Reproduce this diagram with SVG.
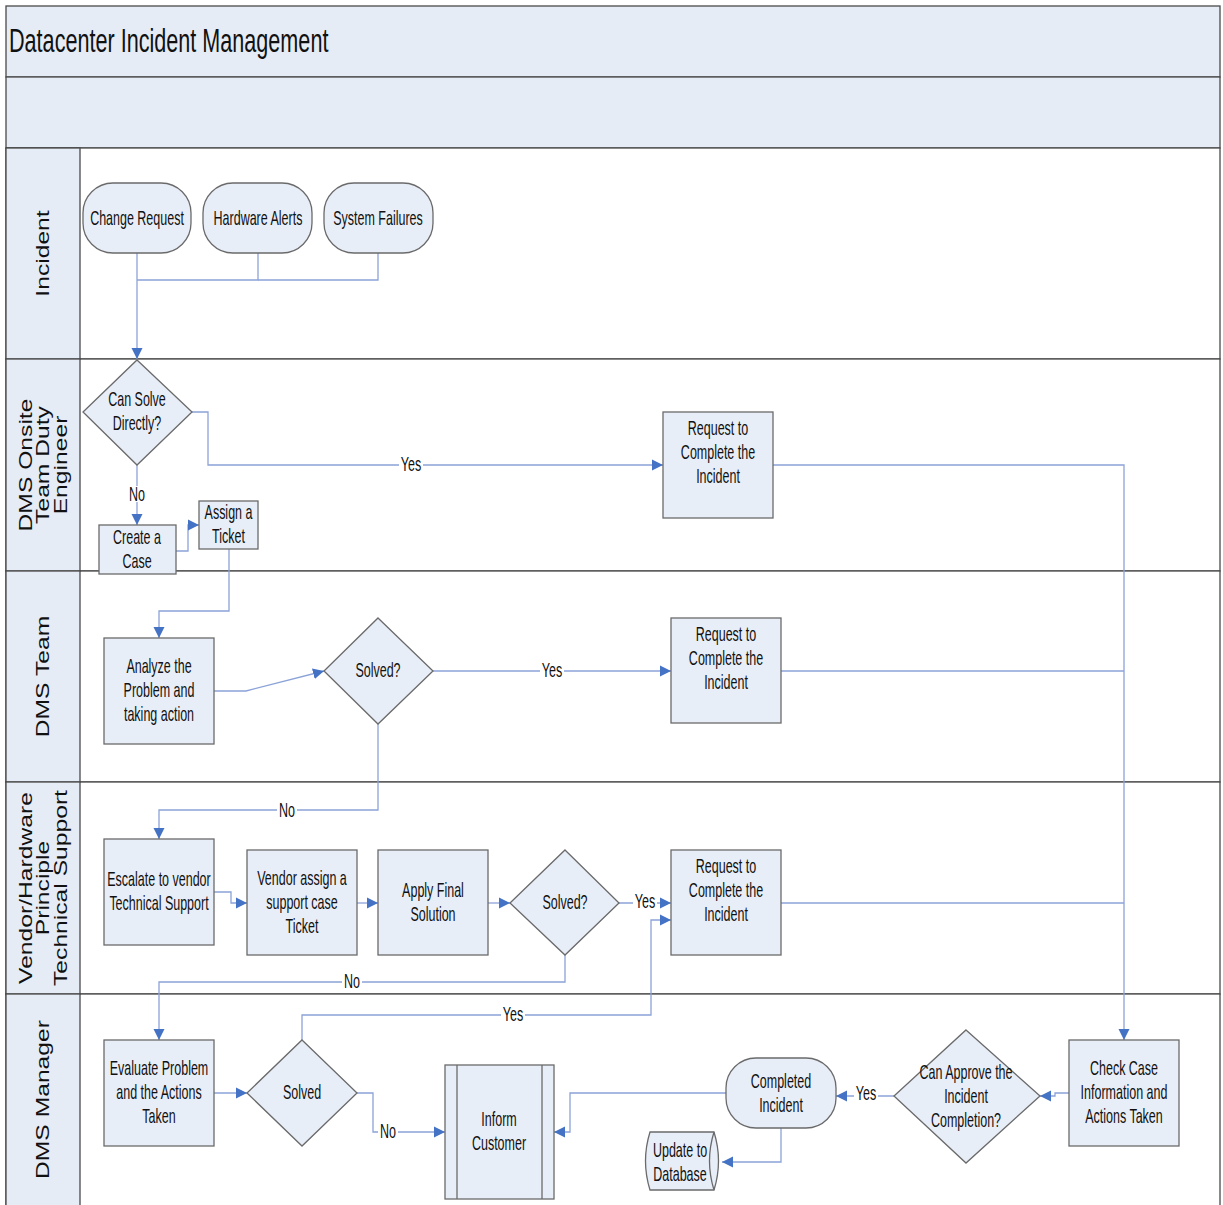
<svg xmlns="http://www.w3.org/2000/svg" width="1223" height="1205" viewBox="0 0 1223 1205">
  <style>
    .band { fill: #e6ecf6; stroke: #4a4a4a; stroke-width: 1.3; }
    .lane { fill: #ffffff; stroke: #4a4a4a; stroke-width: 1.3; }
    .node { fill: #e8eef8; stroke: #6a6a6a; stroke-width: 1.3; }
    .conn { fill: none; stroke: #8ca3d8; stroke-width: 1.3; }
    .t { font-family: "Liberation Sans", Arial, sans-serif; font-size: 20px; fill: #111; text-anchor: middle; }
    .title { font-family: "Liberation Sans", Arial, sans-serif; font-size: 33px; fill: #111; }
    .lt { font-family: "Liberation Sans", Arial, sans-serif; font-size: 18px; fill: #111; text-anchor: middle; }
    .lbg { fill: #ffffff; }
  </style>
  <defs>
    <marker id="arr" markerUnits="userSpaceOnUse" markerWidth="12" markerHeight="12" viewBox="0 0 12 12" refX="11" refY="6" orient="auto">
      <path d="M0,0.5 L11,6 L0,11.5 Z" fill="#4472c4"/>
    </marker>
  </defs>

  <!-- pool frame and header bands -->
  <g id="pool">
    <rect class="band" x="6" y="6" width="1214" height="71"/>
    <rect class="band" x="6" y="77" width="1214" height="71"/>
    <text class="title" transform="translate(9 0) scale(0.655 1)" x="0" y="52">Datacenter Incident Management</text>
  </g>

  <!-- swimlanes -->
  <g id="lanes">
    <rect class="lane" x="6" y="148" width="1214" height="211"/>
    <rect class="lane" x="6" y="359" width="1214" height="212"/>
    <rect class="lane" x="6" y="571" width="1214" height="211"/>
    <rect class="lane" x="6" y="782" width="1214" height="212"/>
    <rect class="lane" x="6" y="994" width="1214" height="215"/>
    <rect class="band" x="6" y="148" width="74" height="211"/>
    <rect class="band" x="6" y="359" width="74" height="212"/>
    <rect class="band" x="6" y="571" width="74" height="211"/>
    <rect class="band" x="6" y="782" width="74" height="212"/>
    <rect class="band" x="6" y="994" width="74" height="215"/>
    <text class="lt" transform="translate(49 253.5) rotate(-90) scale(1.37 1)">Incident</text>
    <text class="lt" transform="translate(31.5 465) rotate(-90) scale(1.37 1)">DMS Onsite</text>
    <text class="lt" transform="translate(49 465) rotate(-90) scale(1.37 1)">Team Duty</text>
    <text class="lt" transform="translate(66.5 465) rotate(-90) scale(1.37 1)">Engineer</text>
    <text class="lt" transform="translate(49 676.5) rotate(-90) scale(1.37 1)">DMS Team</text>
    <text class="lt" transform="translate(31.5 888) rotate(-90) scale(1.37 1)">Vendor/Hardware</text>
    <text class="lt" transform="translate(49 888) rotate(-90) scale(1.37 1)">Principle</text>
    <text class="lt" transform="translate(66.5 888) rotate(-90) scale(1.37 1)">Technical Support</text>
    <text class="lt" transform="translate(49 1099.5) rotate(-90) scale(1.37 1)">DMS Manager</text>
  </g>

  <!-- connectors -->
  <g id="connectors">
    <path class="conn" d="M137,253 V359" marker-end="url(#arr)"/>
    <path class="conn" d="M258,253 V280 H137"/>
    <path class="conn" d="M378,253 V280 H258"/>
    <path class="conn" d="M192,412 H208 V465 H663" marker-end="url(#arr)"/>
    <path class="conn" d="M773,465 H1124 V1040" marker-end="url(#arr)"/>
    <path class="conn" d="M137,465 V525" marker-end="url(#arr)"/>
    <path class="conn" d="M176,551 H188 V525 H199" marker-end="url(#arr)"/>
    <path class="conn" d="M229,549 V611 H159 V638" marker-end="url(#arr)"/>
    <path class="conn" d="M214,691 H246 L324,671" marker-end="url(#arr)"/>
    <path class="conn" d="M433,671 H671" marker-end="url(#arr)"/>
    <path class="conn" d="M781,671 H1124"/>
    <path class="conn" d="M378,724 V810 H159 V839" marker-end="url(#arr)"/>
    <path class="conn" d="M214,892 H231 V903 H247" marker-end="url(#arr)"/>
    <path class="conn" d="M357,903 H378" marker-end="url(#arr)"/>
    <path class="conn" d="M488,903 H510" marker-end="url(#arr)"/>
    <path class="conn" d="M619,903 H671" marker-end="url(#arr)"/>
    <path class="conn" d="M781,903 H1124"/>
    <path class="conn" d="M565,955 V982 H159 V1040" marker-end="url(#arr)"/>
    <path class="conn" d="M214,1093 H247" marker-end="url(#arr)"/>
    <path class="conn" d="M302,1040 V1015 H651 V920 H671" marker-end="url(#arr)"/>
    <path class="conn" d="M357,1093 H373 V1132 H445" marker-end="url(#arr)"/>
    <path class="conn" d="M1069,1093 H1055 V1096 H1040" marker-end="url(#arr)"/>
    <path class="conn" d="M894,1096 H836" marker-end="url(#arr)"/>
    <path class="conn" d="M726,1093 H570 V1132 H554" marker-end="url(#arr)"/>
    <path class="conn" d="M781,1128 V1162 H722" marker-end="url(#arr)"/>

    <!-- connector labels -->
    <rect class="lbg" x="399" y="457" width="24" height="16"/>
    <text class="t" transform="translate(411 0) scale(0.625 1)" x="0" y="471">Yes</text>
    <rect class="lbg" x="127" y="486" width="20" height="16"/>
    <text class="t" transform="translate(137 0) scale(0.625 1)" x="0" y="501">No</text>
    <rect class="lbg" x="540" y="663" width="24" height="16"/>
    <text class="t" transform="translate(552 0) scale(0.625 1)" x="0" y="677">Yes</text>
    <rect class="lbg" x="277" y="802" width="20" height="16"/>
    <text class="t" transform="translate(287 0) scale(0.625 1)" x="0" y="817">No</text>
    <rect class="lbg" x="633" y="894" width="24" height="16"/>
    <text class="t" transform="translate(645 0) scale(0.625 1)" x="0" y="908">Yes</text>
    <rect class="lbg" x="342" y="973" width="20" height="16"/>
    <text class="t" transform="translate(352 0) scale(0.625 1)" x="0" y="988">No</text>
    <rect class="lbg" x="501" y="1007" width="24" height="16"/>
    <text class="t" transform="translate(513 0) scale(0.625 1)" x="0" y="1021">Yes</text>
    <rect class="lbg" x="378" y="1123" width="20" height="16"/>
    <text class="t" transform="translate(388 0) scale(0.625 1)" x="0" y="1138">No</text>
    <rect class="lbg" x="854" y="1086" width="24" height="16"/>
    <text class="t" transform="translate(866 0) scale(0.625 1)" x="0" y="1100">Yes</text>
  </g>

  <!-- Incident lane -->
  <g id="change-request">
    <rect class="node" x="83" y="183" width="108" height="70" rx="30" ry="30"/>
    <text class="t" transform="translate(137 0) scale(0.625 1)" x="0" y="225">Change Request</text>
  </g>
  <g id="hardware-alerts">
    <rect class="node" x="203" y="183" width="109" height="70" rx="30" ry="30"/>
    <text class="t" transform="translate(258 0) scale(0.625 1)" x="0" y="225">Hardware Alerts</text>
  </g>
  <g id="system-failures">
    <rect class="node" x="324" y="183" width="109" height="70" rx="30" ry="30"/>
    <text class="t" transform="translate(378 0) scale(0.625 1)" x="0" y="225">System Failures</text>
  </g>

  <!-- DMS Onsite Team Duty Engineer lane -->
  <g id="can-solve-directly">
    <polygon class="node" points="137,360 192,412 137,465 83,412"/>
    <text class="t" transform="translate(137 0) scale(0.625 1)"><tspan x="0" y="406">Can Solve</tspan><tspan x="0" y="430">Directly?</tspan></text>
  </g>
  <g id="request-complete-1">
    <rect class="node" x="663" y="412" width="110" height="106"/>
    <text class="t" transform="translate(718 0) scale(0.625 1)"><tspan x="0" y="435">Request to</tspan><tspan x="0" y="459">Complete the</tspan><tspan x="0" y="483">Incident</tspan></text>
  </g>
  <g id="create-case">
    <rect class="node" x="99" y="525" width="77" height="49"/>
    <text class="t" transform="translate(137 0) scale(0.625 1)"><tspan x="0" y="544">Create a</tspan><tspan x="0" y="568">Case</tspan></text>
  </g>
  <g id="assign-ticket">
    <rect class="node" x="199" y="501" width="59" height="48"/>
    <text class="t" transform="translate(228.5 0) scale(0.625 1)"><tspan x="0" y="519">Assign a</tspan><tspan x="0" y="543">Ticket</tspan></text>
  </g>

  <!-- DMS Team lane -->
  <g id="analyze-problem">
    <rect class="node" x="104" y="638" width="110" height="106"/>
    <text class="t" transform="translate(159 0) scale(0.625 1)"><tspan x="0" y="673">Analyze the</tspan><tspan x="0" y="697">Problem and</tspan><tspan x="0" y="721">taking action</tspan></text>
  </g>
  <g id="solved-team">
    <polygon class="node" points="378,618 433,671 378,724 324,671"/>
    <text class="t" transform="translate(378 0) scale(0.625 1)" x="0" y="677">Solved?</text>
  </g>
  <g id="request-complete-2">
    <rect class="node" x="671" y="618" width="110" height="105"/>
    <text class="t" transform="translate(726 0) scale(0.625 1)"><tspan x="0" y="641">Request to</tspan><tspan x="0" y="665">Complete the</tspan><tspan x="0" y="689">Incident</tspan></text>
  </g>

  <!-- Vendor/Hardware Principle Technical Support lane -->
  <g id="escalate-vendor">
    <rect class="node" x="104" y="839" width="110" height="106"/>
    <text class="t" transform="translate(159 0) scale(0.625 1)"><tspan x="0" y="886">Escalate to vendor</tspan><tspan x="0" y="910">Technical Support</tspan></text>
  </g>
  <g id="vendor-assign">
    <rect class="node" x="247" y="850" width="110" height="105"/>
    <text class="t" transform="translate(302 0) scale(0.625 1)"><tspan x="0" y="885">Vendor assign a</tspan><tspan x="0" y="909">support case</tspan><tspan x="0" y="933">Ticket</tspan></text>
  </g>
  <g id="apply-final-solution">
    <rect class="node" x="378" y="850" width="110" height="105"/>
    <text class="t" transform="translate(433 0) scale(0.625 1)"><tspan x="0" y="897">Apply Final</tspan><tspan x="0" y="921">Solution</tspan></text>
  </g>
  <g id="solved-vendor">
    <polygon class="node" points="565,850 619,903 565,955 510,903"/>
    <text class="t" transform="translate(565 0) scale(0.625 1)" x="0" y="909">Solved?</text>
  </g>
  <g id="request-complete-3">
    <rect class="node" x="671" y="850" width="110" height="105"/>
    <text class="t" transform="translate(726 0) scale(0.625 1)"><tspan x="0" y="873">Request to</tspan><tspan x="0" y="897">Complete the</tspan><tspan x="0" y="921">Incident</tspan></text>
  </g>

  <!-- DMS Manager lane -->
  <g id="evaluate-problem">
    <rect class="node" x="104" y="1040" width="110" height="106"/>
    <text class="t" transform="translate(159 0) scale(0.625 1)"><tspan x="0" y="1075">Evaluate Problem</tspan><tspan x="0" y="1099">and the Actions</tspan><tspan x="0" y="1123">Taken</tspan></text>
  </g>
  <g id="solved-manager">
    <polygon class="node" points="302,1040 357,1093 302,1146 247,1093"/>
    <text class="t" transform="translate(302 0) scale(0.625 1)" x="0" y="1099">Solved</text>
  </g>
  <g id="inform-customer">
    <rect class="node" x="445" y="1065" width="109" height="134"/>
    <line class="node" x1="457" y1="1065" x2="457" y2="1199"/>
    <line class="node" x1="542" y1="1065" x2="542" y2="1199"/>
    <text class="t" transform="translate(499 0) scale(0.625 1)"><tspan x="0" y="1126">Inform</tspan><tspan x="0" y="1150">Customer</tspan></text>
  </g>
  <g id="completed-incident">
    <rect class="node" x="726" y="1058" width="110" height="70" rx="30" ry="30"/>
    <text class="t" transform="translate(781 0) scale(0.625 1)"><tspan x="0" y="1088">Completed</tspan><tspan x="0" y="1112">Incident</tspan></text>
  </g>
  <g id="update-database">
    <path class="node" d="M650,1132 H714 Q723,1161 714,1190 H650 Q641,1161 650,1132 Z"/>
    <path class="node" d="M714,1132 Q705,1161 714,1190" fill="none"/>
    <text class="t" transform="translate(680 0) scale(0.625 1)"><tspan x="0" y="1157">Update to</tspan><tspan x="0" y="1181">Database</tspan></text>
  </g>
  <g id="can-approve">
    <polygon class="node" points="966,1030 1040,1096 966,1163 894,1096"/>
    <text class="t" transform="translate(966 0) scale(0.625 1)"><tspan x="0" y="1079">Can Approve the</tspan><tspan x="0" y="1103">Incident</tspan><tspan x="0" y="1127">Completion?</tspan></text>
  </g>
  <g id="check-case">
    <rect class="node" x="1069" y="1040" width="110" height="106"/>
    <text class="t" transform="translate(1124 0) scale(0.625 1)"><tspan x="0" y="1075">Check Case</tspan><tspan x="0" y="1099">Information and</tspan><tspan x="0" y="1123">Actions Taken</tspan></text>
  </g>
</svg>
